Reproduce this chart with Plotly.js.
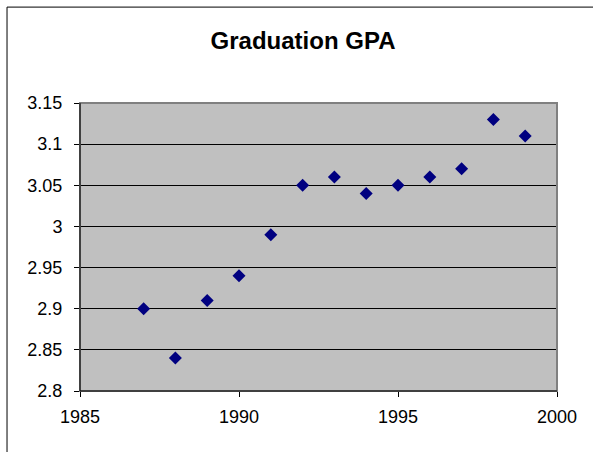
<!DOCTYPE html>
<html>
<head>
<script src="https://cdn.plot.ly/plotly-3.0.1.min.js"></script>
<style>html,body{margin:0;padding:0;background:#fff;}#chart{width:593px;height:452px;}</style>
</head>
<body>
<div id="chart"></div>
<script>
var years = [1987, 1988, 1989, 1990, 1991, 1992, 1993, 1994, 1995, 1996, 1997, 1998, 1999];
var gpa = [2.90, 2.84, 2.91, 2.94, 2.99, 3.05, 3.06, 3.04, 3.05, 3.06, 3.07, 3.13, 3.11];
var chartTitle = 'Graduation GPA';

var trace = {
  x: years, y: gpa, type: 'scatter', mode: 'markers',
  marker: {symbol: 'diamond', color: '#000080', size: 10, line: {width: 0}},
  hoverinfo: 'skip'
};
var layout = {
  width: 593, height: 452,
  margin: {l: 80, r: 36, t: 103, b: 61},
  paper_bgcolor: '#ffffff', plot_bgcolor: '#c0c0c0',
  showlegend: false,
  title: {text: '<b>' + chartTitle + '</b>', font: {family: 'Liberation Sans, Arial', size: 24, color: '#000'}, x: 0.511, xanchor: 'center', y: 0.911, yanchor: 'middle'},
  xaxis: {range: [1985, 2000], dtick: 5, tick0: 1985, showgrid: false, zeroline: false,
    showline: false, ticks: 'outside', ticklen: 5, tickcolor: '#000',
    ticklabelstandoff: 4,
    tickfont: {family: 'Liberation Sans, Arial', size: 18, color: '#000'}},
  yaxis: {range: [2.8, 3.15], dtick: 0.05, tick0: 2.8, showgrid: true, gridcolor: '#000', gridwidth: 1,
    zeroline: false, showline: false, ticks: 'outside', ticklen: 5, tickcolor: '#000',
    ticklabelstandoff: 8,
    tickfont: {family: 'Liberation Sans, Arial', size: 18, color: '#000'}},
  shapes: [
    {type: 'rect', xref: 'paper', yref: 'paper', x0: 0, x1: 1, y0: 0, y1: 1, line: {color: '#808080', width: 2}, layer: 'above'},
    {type: 'line', xref: 'paper', yref: 'paper', x0: 0, x1: 0, y0: 0, y1: 1, line: {color: '#000', width: 1}, layer: 'above'},
    {type: 'line', xref: 'paper', yref: 'paper', x0: 0, x1: 1, y0: 0, y1: 0, line: {color: '#000', width: 1}, layer: 'above'},
    {type: 'rect', xref: 'paper', yref: 'paper', x0: -0.153, x1: 1.3, y0: -0.5, y1: 1.333, line: {color: '#000', width: 1}, layer: 'above'}
  ]
};
Plotly.newPlot('chart', [trace], layout, {displayModeBar: false, staticPlot: true});
</script>
</body>
</html>
